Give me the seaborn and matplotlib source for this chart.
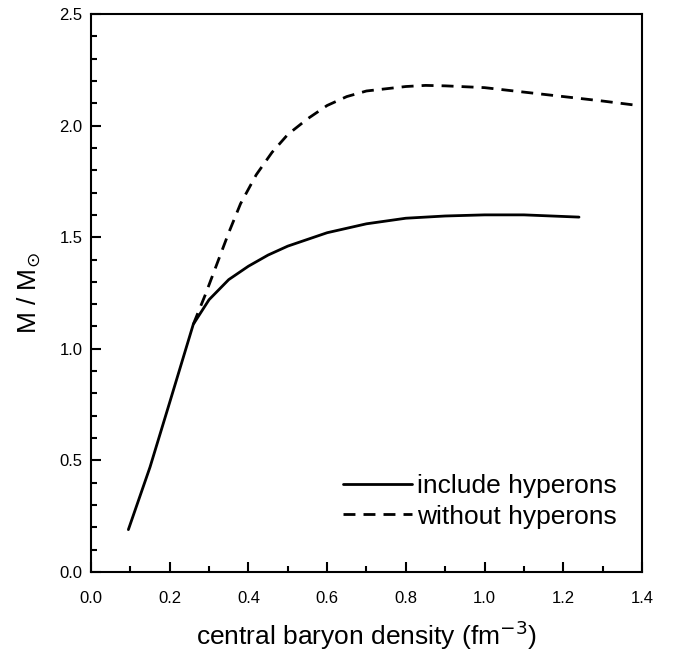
import matplotlib
matplotlib.use('Agg')
import matplotlib.pyplot as plt
import numpy as np
import pandas as pd
import seaborn as sns
from matplotlib.ticker import MultipleLocator

# central density (fm^-3) vs. maximum mass
dens_hyp = [0.095, 0.15, 0.20, 0.26, 0.30, 0.35, 0.40, 0.45, 0.50, 0.60, 0.70, 0.80, 0.90, 1.00, 1.10, 1.24]
mass_hyp = [0.19, 0.47, 0.76, 1.11, 1.22, 1.31, 1.37, 1.42, 1.46, 1.52, 1.56, 1.585, 1.595, 1.60, 1.60, 1.59]

dens_nohyp = [0.26, 0.29, 0.32, 0.35, 0.38, 0.42, 0.46, 0.50, 0.55, 0.60, 0.65, 0.70, 0.80, 0.85,
              0.90, 1.00, 1.10, 1.20, 1.30, 1.39]
mass_nohyp = [1.11, 1.24, 1.38, 1.52, 1.65, 1.78, 1.88, 1.96, 2.03, 2.09, 2.13, 2.155, 2.175, 2.18,
              2.178, 2.17, 2.15, 2.13, 2.11, 2.09]

sns.set_style('white')
plt.rcParams.update({'font.family': ['Liberation Sans', 'DejaVu Sans'],
                     'axes.linewidth': 1.5,
                     'text.color': 'black',
                     'axes.labelcolor': 'black',
                     'xtick.color': 'black',
                     'ytick.color': 'black',
                     'mathtext.fontset': 'dejavusans'})

df = pd.concat([
    pd.DataFrame({'rho': dens_hyp, 'M': mass_hyp, 'case': 'include hyperons'}),
    pd.DataFrame({'rho': dens_nohyp, 'M': mass_nohyp, 'case': 'without hyperons'}),
])

fig = plt.figure(figsize=(6.81, 6.56), dpi=100)
ax = fig.add_axes([0.1336, 0.128, 0.8091, 0.8507])

sns.lineplot(ax=ax, data=df, x='rho', y='M', style='case', color='black',
             dashes={'include hyperons': '', 'without hyperons': (4.3, 2.9)},
             linewidth=2, sort=False, estimator=None)

ax.set_xlim(0, 1.4)
ax.set_ylim(0, 2.5)
ax.xaxis.set_major_locator(MultipleLocator(0.2))
ax.xaxis.set_minor_locator(MultipleLocator(0.1))
ax.yaxis.set_major_locator(MultipleLocator(0.5))
ax.yaxis.set_minor_locator(MultipleLocator(0.1))
ax.tick_params(which='both', direction='in', top=False, right=False,
               bottom=True, left=True, width=1.5, labelsize=12)
ax.tick_params(axis='x', which='major', pad=14)
ax.tick_params(axis='y', which='major', pad=6)
ax.tick_params(which='major', length=7)
ax.tick_params(which='minor', length=4)
for s in ax.spines.values():
    s.set_color('black')

ax.set_xlabel(r'central baryon density (fm$^{-3}$)', fontsize=19, labelpad=9)
ax.set_ylabel(r'M / M$_{\odot}$', fontsize=19, labelpad=12)

ax.legend(loc='upper left', bbox_to_anchor=(0.415, 0.218), frameon=False,
          fontsize=19, handlelength=2.6, handletextpad=0.2, labelspacing=0.25)

fig.savefig('out.png', dpi=100)
